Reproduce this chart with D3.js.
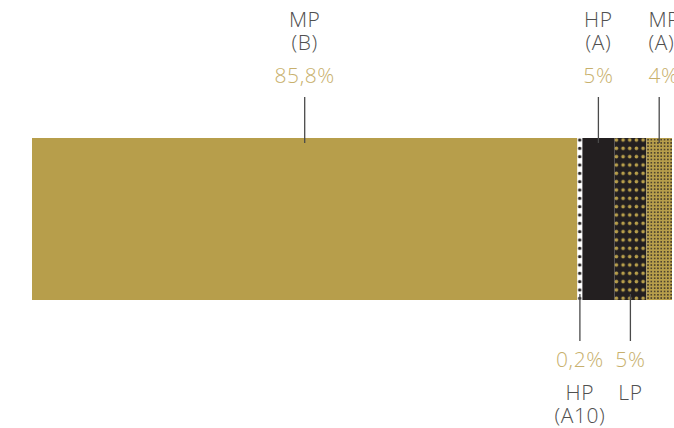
<!DOCTYPE html>
<html>
<head>
<meta charset="utf-8">
<script src="https://cdn.jsdelivr.net/npm/d3@7"></script>
<style>
  html, body { margin: 0; padding: 0; background: #fff; }
  svg { display: block; }
  text { font-family: "Open Sans", "Noto Sans", sans-serif; font-weight: 300; }
</style>
</head>
<body>
<svg id="chart" width="674" height="428"></svg>
<script>
// ---- data ----
const categories = ["MP (B)", "HP (A10)", "HP (A)", "LP", "MP (A)"];
const labelLine1 = ["MP", "HP", "HP", "LP", "MP"];
const labelLine2 = ["(B)", "(A10)", "(A)", "", "(A)"];
const values = [85.8, 0.2, 5, 5, 4];
const valueLabels = ["85,8%", "0,2%", "5%", "5%", "4%"];
const labelSide = ["top", "bottom", "top", "bottom", "top"];

// ---- layout ----
const W = 674, H = 428;
const barTop = 138, barBottom = 300;
const minW = 5;
const gold = "#b79e4b", dark = "#231f20", pctColor = "#c8b06c", textColor = "#505050", lineColor = "#4a4a4a";
const fs = 21, ls = 0.6;

const svg = d3.select("#chart");
const x = d3.scaleLinear().domain([0, d3.sum(values)]).range([32, 672]);

// segments
let cum = 0;
const segs = values.map((v, i) => {
  const s = { i, v, x0: x(cum), x1: x(cum + v) };
  cum += v;
  return s;
});
segs.forEach((s, i) => {
  if (s.x1 - s.x0 < minW) {
    s.x0 = s.x1 - minW;
    if (i > 0) segs[i - 1].x1 = s.x0;
  }
});

// patterns
const defs = svg.append("defs");
const rowStep = 8.33, rowY = 140;
const pA10 = defs.append("pattern").attr("id", "pA10").attr("patternUnits", "userSpaceOnUse")
  .attr("x", segs[1].x0).attr("y", rowY - rowStep / 2).attr("width", 20).attr("height", rowStep);
pA10.append("rect").attr("width", 20).attr("height", rowStep).attr("fill", "#fff");
pA10.append("circle").attr("cx", 2.3).attr("cy", rowStep / 2).attr("r", 1.7).attr("fill", dark);
const colStep = 6.67;
const pLP = defs.append("pattern").attr("id", "pLP").attr("patternUnits", "userSpaceOnUse")
  .attr("x", segs[3].x0 + 2 - colStep / 2).attr("y", rowY - rowStep / 2).attr("width", colStep).attr("height", rowStep);
pLP.append("rect").attr("width", colStep).attr("height", rowStep).attr("fill", dark);
pLP.append("circle").attr("cx", colStep / 2).attr("cy", rowStep / 2).attr("r", 1.8).attr("fill", gold);
const fine = 3.3;
const pMPA = defs.append("pattern").attr("id", "pMPA").attr("patternUnits", "userSpaceOnUse")
  .attr("x", segs[4].x0).attr("y", barTop).attr("width", fine).attr("height", fine);
pMPA.append("rect").attr("width", fine).attr("height", fine).attr("fill", gold);
pMPA.append("rect").attr("x", 0.9).attr("y", 0.9).attr("width", 1.5).attr("height", 1.5).attr("fill", dark).attr("opacity", 0.85);

const fills = [gold, "url(#pA10)", dark, "url(#pLP)", "url(#pMPA)"];

svg.append("g").selectAll("rect").data(segs).join("rect")
  .attr("x", d => d.x0).attr("y", barTop)
  .attr("width", d => d.x1 - d.x0).attr("height", barBottom - barTop)
  .attr("fill", d => fills[d.i]);

// leader lines and labels
const g = svg.append("g");
function label(tx, y, txt, color, anchor) {
  g.append("text").attr("x", tx).attr("y", y).attr("text-anchor", anchor)
    .attr("font-size", fs).attr("letter-spacing", ls).attr("fill", color).text(txt);
}
segs.forEach(s => {
  const cx = (s.x0 + s.x1) / 2;
  const i = s.i;
  // the last segment's labels run off the right edge: left-align them at the segment start
  const last = i === segs.length - 1;
  const tx = last ? s.x0 + 2 : cx;
  const anchor = last ? "start" : "middle";
  if (labelSide[i] === "top") {
    g.append("line").attr("x1", cx).attr("x2", cx).attr("y1", 97).attr("y2", 143)
      .attr("stroke", lineColor).attr("stroke-width", 1.3);
    label(tx, 27, labelLine1[i], textColor, anchor);
    label(tx, 50, labelLine2[i], textColor, anchor);
    label(tx, 83, valueLabels[i], pctColor, anchor);
  } else {
    g.append("line").attr("x1", cx).attr("x2", cx).attr("y1", 294).attr("y2", 341)
      .attr("stroke", lineColor).attr("stroke-width", 1.3);
    label(tx, 367, valueLabels[i], pctColor, anchor);
    label(tx, 400, labelLine1[i], textColor, anchor);
    if (labelLine2[i]) label(tx, 423, labelLine2[i], textColor, anchor);
  }
});
</script>
</body>
</html>
